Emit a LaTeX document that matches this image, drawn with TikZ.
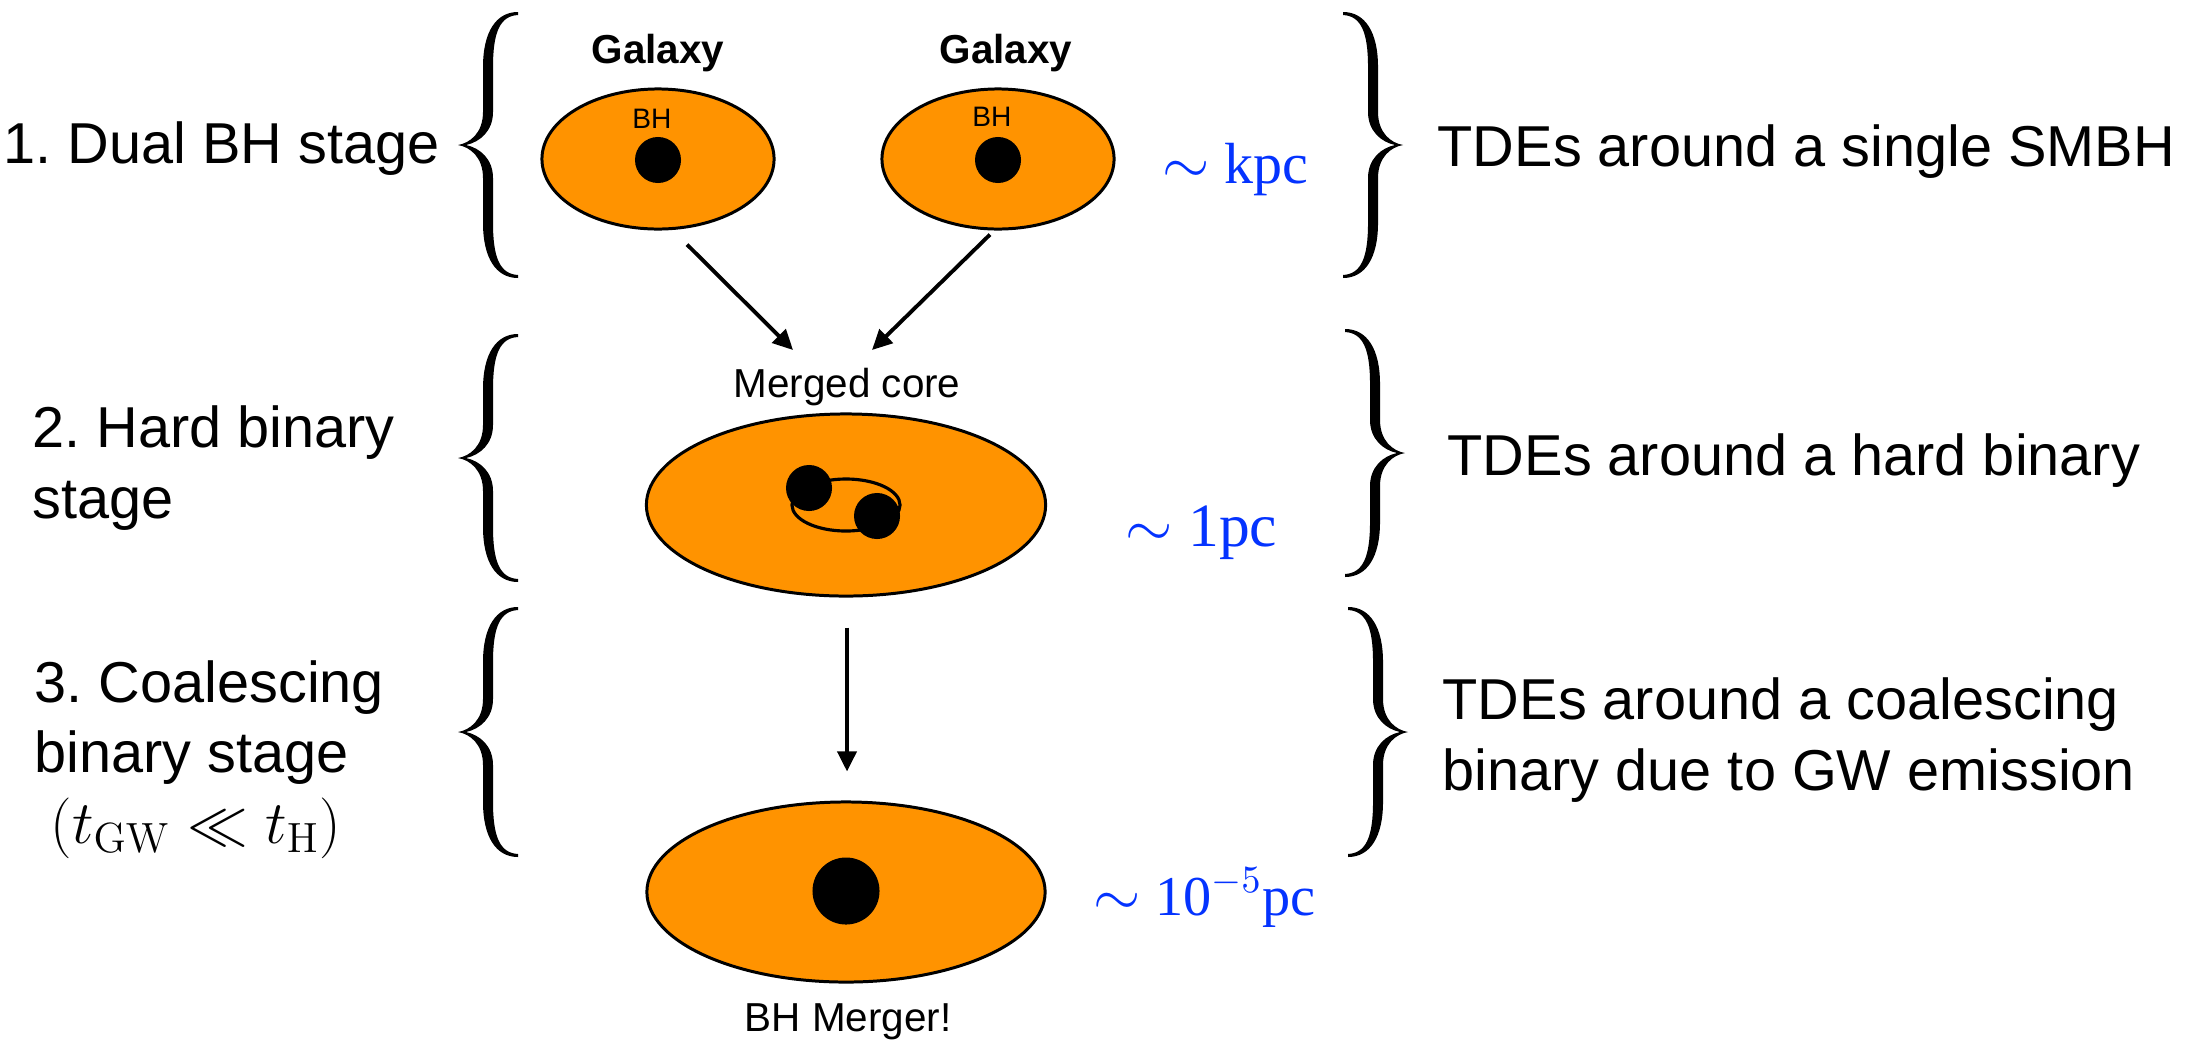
\documentclass[tikz,border=0pt]{standalone}
\usepackage[no-math]{fontspec}
\setmainfont{Liberation Sans}
\newfontfamily\timesfont{Liberation Serif}
\usetikzlibrary{shapes.geometric,arrows.meta}
\definecolor{galorange}{HTML}{FF9300}
\definecolor{scaleblue}{HTML}{0433FF}
\frenchspacing

% curly brace as a filled outline: #1 end x, #2 top y, #3 bottom y, #4 = 1 (tip left) or -1 (tip right)
\newcommand{\stagebrace}[4]{%
  \pgfmathsetmacro{\bracehalf}{(#3-#2)/2}
  \begin{scope}[shift={(#1,{(#2+#3)/2})}, xscale=#4]
    \fill (0,-\bracehalf) .. controls (-22,-\bracehalf) and (-35,{-\bracehalf+20}) .. (-35,{-\bracehalf+55})
      -- (-35,-33) .. controls (-35,-12) and (-48,-2) .. (-60,0)
      .. controls (-48,2) and (-35,12) .. (-35,33)
      -- (-35,{\bracehalf-55}) .. controls (-35,{\bracehalf-20}) and (-22,\bracehalf) .. (0,\bracehalf)
      -- (0,{\bracehalf-3}) .. controls (-18,{\bracehalf-4}) and (-25,{\bracehalf-20}) .. (-25,{\bracehalf-55})
      -- (-25,33) .. controls (-25,14) and (-38,3) .. (-52,0)
      .. controls (-38,-3) and (-25,-14) .. (-25,-33)
      -- (-25,{-\bracehalf+55}) .. controls (-25,{-\bracehalf+20}) and (-18,{-\bracehalf+4}) .. (0,{-\bracehalf+3})
      -- cycle;
  \end{scope}}

\begin{document}
\begin{tikzpicture}[x=0.01cm, y=-0.01cm,
  galaxy/.style={ellipse, draw, line width=0.85pt, fill=galorange, inner sep=0pt},
  hole/.style={circle, fill=black, inner sep=0pt},
  orbit/.style={ellipse, draw, line width=0.9pt, inner sep=0pt},
  flow/.style={-{Triangle[length=5.7pt,width=5.4pt]}, line width=1.1pt},
  stage/.style={anchor=base west, inner sep=0pt, align=left, font=\fontsize{16.4}{20}\selectfont},
  capt/.style={anchor=base, inner sep=0pt, font=\fontsize{11.5}{14}\selectfont},
  gname/.style={anchor=base, inner sep=0pt, font=\fontsize{11.5}{14}\selectfont\bfseries},
  bhname/.style={anchor=base, inner sep=0pt, font=\fontsize{8}{10}\selectfont},
  sizelabel/.style={anchor=base west, inner sep=0pt, text=scaleblue}
]
  \useasboundingbox (0,0) rectangle (2198,1039);

  % stage names and braces (base = last line)
  \node[stage] (st1) at (3,163) {1. Dual BH stage};
  \node[stage] (st2) at (32,518) {2. Hard binary\\stage};
  \node[stage] (st3) at (34,843) {3. Coalescing\\binary stage\\\hspace{4.5pt}$(t_{\mathrm{GW}} \ll t_{\mathrm{H}})$};
  \stagebrace{518}{12}{278}{1}
  \stagebrace{518}{334}{582}{1}
  \stagebrace{518}{607}{857}{1}

  % two galaxies
  \node[gname] (gn1) at (658,63) {Galaxy};
  \node[gname] (gn2) at (1006,63) {Galaxy};
  \node[galaxy, minimum width=2.32cm, minimum height=1.40cm] (galL) at (658,159) {};
  \node[galaxy, minimum width=2.32cm, minimum height=1.40cm] (galR) at (998,159) {};
  \node[bhname] (bhn1) at (652,128) {BH};
  \node[bhname] (bhn2) at (992,126) {BH};
  \node[hole, minimum size=0.46cm] (bhL) at (658,160) {};
  \node[hole, minimum size=0.46cm] (bhR) at (998,160) {};
  \node[sizelabel, font=\fontsize{16.5}{18}\timesfont] (kpc) at (1162,183) {$\sim$ kpc};

  % merged core with the hard binary
  \node[capt] (corelab) at (847,397) {Merged core};
  \node[galaxy, minimum width=3.99cm, minimum height=1.82cm] (core) at (846,505) {};
  \node[orbit, minimum width=1.08cm, minimum height=0.52cm] (orb) at (846,505) {};
  \node[hole, minimum size=0.46cm] (bin1) at (809,488) {};
  \node[hole, minimum size=0.46cm] (bin2) at (877,516) {};
  \node[sizelabel, font=\fontsize{17.5}{20}\timesfont] (pc1) at (1125,546) {$\sim$ 1pc};

  % coalesced black hole
  \node[galaxy, minimum width=3.98cm, minimum height=1.80cm] (merger) at (846,892) {};
  \node[hole, minimum size=0.67cm] (bhM) at (846,891) {};
  \node[capt] (mergelab) at (848,1031) {BH Merger!};
  \node[sizelabel, font=\fontsize{16}{18}\timesfont] (pc5) at (1093,915) {$\sim$ 10$^{-5}$pc};

  \draw[flow] ([shift={(29,14)}]galL.south) -- ([shift={(-54,-17)}]corelab.north);
  \draw[flow] ([shift={(-8,4)}]galR.south) -- ([shift={(25,-17)}]corelab.north);
  \draw[flow] ([shift={(1,30)}]core.south) -- ([shift={(1,-29)}]merger.north);

  % TDE regimes
  \stagebrace{1343}{12}{278}{-1}
  \stagebrace{1345}{329}{577}{-1}
  \stagebrace{1348}{607}{857}{-1}
  \node[stage] (tde1) at (1437,166) {TDEs around a single SMBH};
  \node[stage] (tde2) at (1447,475) {TDEs around a hard binary};
  \node[stage] (tde3) at (1442,790) {TDEs around a coalescing\\binary due to GW emission};
\end{tikzpicture}
\end{document}
